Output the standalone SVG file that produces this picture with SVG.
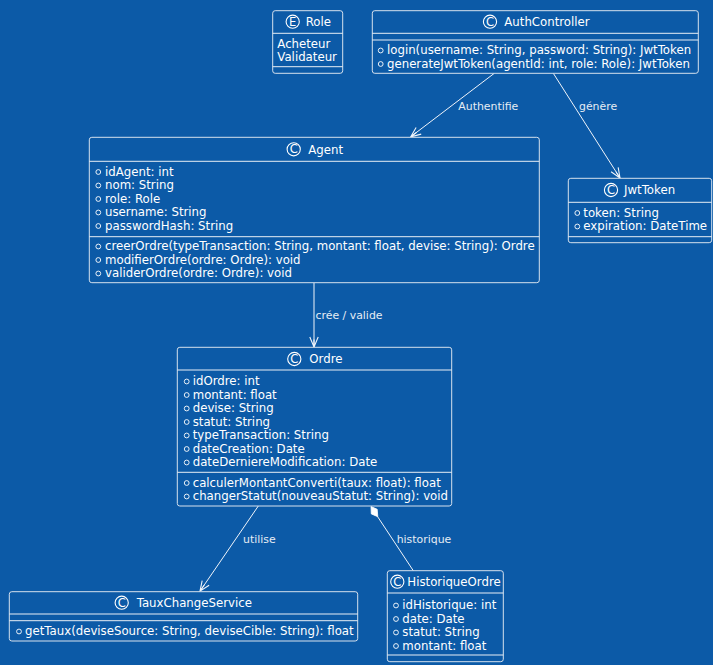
<svg xmlns="http://www.w3.org/2000/svg" width="713" height="665" viewBox="0 0 713 665">
<defs>
<style>
.bg{fill:#0C5AA7}
.box{fill:#0C5AA7;stroke:#D6E1EE;stroke-width:1}
.sep{stroke:#E8EEF6;stroke-width:1}
.t{font-family:"DejaVu Sans",Verdana,sans-serif;font-size:11.75px;fill:#FFFFFF}
.title{font-family:"DejaVu Sans",Verdana,sans-serif;font-size:11.75px;fill:#FFFFFF}
.lbl{font-family:"DejaVu Sans",Verdana,sans-serif;font-size:10.9px;fill:#E6ECF4}
.vis{fill:none;stroke:#FFFFFF;stroke-width:0.9}
.spot{fill:none;stroke:#FFFFFF;stroke-width:1.1}
.spotl{font-family:"DejaVu Sans",Verdana,sans-serif;font-size:11.5px;fill:#FFFFFF;text-anchor:middle}
.edge{stroke:#F0F4FA;stroke-width:1;fill:none}
</style>
<marker id="arr" viewBox="0 0 12 12" refX="11" refY="6" markerWidth="12" markerHeight="12" markerUnits="userSpaceOnUse" orient="auto">
<path d="M1,1.8 L11,6 L1,10.2 M11,6 L3.5,6" fill="none" stroke="#F0F4FA" stroke-width="1.1"/>
</marker>
</defs>
<rect class="bg" x="0" y="0" width="713" height="665"/>

<g id="connectors">
<line class="edge" x1="494.3" y1="73.3" x2="410.7" y2="136.8" marker-end="url(#arr)"/>
<text class="lbl" x="458.3" y="110">Authentifie</text>
<line class="edge" x1="553.3" y1="73.3" x2="620" y2="178" marker-end="url(#arr)"/>
<text class="lbl" x="579" y="110">génère</text>
<line class="edge" x1="314" y1="282.7" x2="314" y2="347" marker-end="url(#arr)"/>
<text class="lbl" x="315.5" y="319">crée / valide</text>
<line class="edge" x1="258.3" y1="506" x2="200" y2="591.2" marker-end="url(#arr)"/>
<text class="lbl" x="243" y="543">utilise</text>
<line class="edge" x1="377.5" y1="516.5" x2="413.3" y2="570.7"/>
<polygon points="371,506.5 377.2,509.3 377.8,516.7 371.3,513.9" fill="#FFFFFF" stroke="#FFFFFF" stroke-width="0.8"/>
<text class="lbl" x="396.7" y="543">historique</text>
</g>

<g id="Role">
<rect class="box" x="272.7" y="10.7" width="70" height="62.6" rx="2.5"/>
<line class="sep" x1="272.7" y1="33.3" x2="342.7" y2="33.3"/>
<line class="sep" x1="272.7" y1="66.7" x2="342.7" y2="66.7"/>
<circle class="spot" cx="292.7" cy="21.7" r="6.6"/>
<text class="spotl" x="292.7" y="25.8">E</text>
<text class="title" x="305.7" y="26">Role</text>
<text class="t" x="277.3" y="47.5">Acheteur</text>
<text class="t" x="277.3" y="61">Validateur</text>
</g>

<g id="AuthController">
<rect class="box" x="372.3" y="10.7" width="326" height="62.6" rx="2.5"/>
<line class="sep" x1="372.3" y1="33.3" x2="698.3" y2="33.3"/>
<line class="sep" x1="372.3" y1="40" x2="698.3" y2="40"/>
<circle class="spot" cx="490" cy="21.7" r="6.6"/>
<text class="spotl" x="490" y="25.8">C</text>
<text class="title" x="504.3" y="26">AuthController</text>
<circle class="vis" cx="380.7" cy="50.5" r="2.4"/>
<text class="t" x="387" y="54">login(username: String, password: String): JwtToken</text>
<circle class="vis" cx="380.7" cy="64" r="2.4"/>
<text class="t" x="387" y="67.5">generateJwtToken(agentId: int, role: Role): JwtToken</text>
</g>

<g id="Agent">
<rect class="box" x="89.3" y="137.3" width="450" height="145.4" rx="2.5"/>
<line class="sep" x1="89.3" y1="161.3" x2="539.3" y2="161.3"/>
<line class="sep" x1="89.3" y1="236.7" x2="539.3" y2="236.7"/>
<circle class="spot" cx="293.7" cy="149.3" r="6.6"/>
<text class="spotl" x="293.7" y="153.4">C</text>
<text class="title" x="308.3" y="153.5">Agent</text>
<circle class="vis" cx="98.3" cy="172" r="2.4"/>
<text class="t" x="105" y="175.5">idAgent: int</text>
<circle class="vis" cx="98.3" cy="185.5" r="2.4"/>
<text class="t" x="105" y="189">nom: String</text>
<circle class="vis" cx="98.3" cy="199" r="2.4"/>
<text class="t" x="105" y="202.5">role: Role</text>
<circle class="vis" cx="98.3" cy="212.5" r="2.4"/>
<text class="t" x="105" y="216">username: String</text>
<circle class="vis" cx="98.3" cy="226" r="2.4"/>
<text class="t" x="105" y="229.5">passwordHash: String</text>
<circle class="vis" cx="98.3" cy="246.5" r="2.4"/>
<text class="t" x="105" y="250">creerOrdre(typeTransaction: String, montant: float, devise: String): Ordre</text>
<circle class="vis" cx="98.3" cy="260" r="2.4"/>
<text class="t" x="105" y="263.5">modifierOrdre(ordre: Ordre): void</text>
<circle class="vis" cx="98.3" cy="273.5" r="2.4"/>
<text class="t" x="105" y="277">validerOrdre(ordre: Ordre): void</text>
</g>

<g id="JwtToken">
<rect class="box" x="568.3" y="178.3" width="143.4" height="64.4" rx="2.5"/>
<line class="sep" x1="568.3" y1="202.3" x2="711.7" y2="202.3"/>
<line class="sep" x1="568.3" y1="236.7" x2="711.7" y2="236.7"/>
<circle class="spot" cx="611" cy="190" r="6.6"/>
<text class="spotl" x="611" y="194.1">C</text>
<text class="title" x="624" y="194">JwtToken</text>
<circle class="vis" cx="577.3" cy="213" r="2.4"/>
<text class="t" x="583.3" y="216.5">token: String</text>
<circle class="vis" cx="577.3" cy="226.5" r="2.4"/>
<text class="t" x="583.3" y="230">expiration: DateTime</text>
</g>

<g id="Ordre">
<rect class="box" x="177.3" y="347.3" width="274.4" height="158.7" rx="2.5"/>
<line class="sep" x1="177.3" y1="370" x2="451.7" y2="370"/>
<line class="sep" x1="177.3" y1="472.3" x2="451.7" y2="472.3"/>
<circle class="spot" cx="294.3" cy="359" r="6.6"/>
<text class="spotl" x="294.3" y="363.1">C</text>
<text class="title" x="309.3" y="363">Ordre</text>
<circle class="vis" cx="186.7" cy="381.5" r="2.4"/>
<text class="t" x="192.7" y="385">idOrdre: int</text>
<circle class="vis" cx="186.7" cy="395" r="2.4"/>
<text class="t" x="192.7" y="398.5">montant: float</text>
<circle class="vis" cx="186.7" cy="408.5" r="2.4"/>
<text class="t" x="192.7" y="412">devise: String</text>
<circle class="vis" cx="186.7" cy="422" r="2.4"/>
<text class="t" x="192.7" y="425.5">statut: String</text>
<circle class="vis" cx="186.7" cy="435.5" r="2.4"/>
<text class="t" x="192.7" y="439">typeTransaction: String</text>
<circle class="vis" cx="186.7" cy="449" r="2.4"/>
<text class="t" x="192.7" y="452.5">dateCreation: Date</text>
<circle class="vis" cx="186.7" cy="462.5" r="2.4"/>
<text class="t" x="192.7" y="466">dateDerniereModification: Date</text>
<circle class="vis" cx="186.7" cy="483" r="2.4"/>
<text class="t" x="192.7" y="486.5">calculerMontantConverti(taux: float): float</text>
<circle class="vis" cx="186.7" cy="496.5" r="2.4"/>
<text class="t" x="192.7" y="500">changerStatut(nouveauStatut: String): void</text>
</g>

<g id="TauxChangeService">
<rect class="box" x="9.3" y="591.7" width="348.4" height="49.3" rx="2.5"/>
<line class="sep" x1="9.3" y1="614" x2="357.7" y2="614"/>
<line class="sep" x1="9.3" y1="620.7" x2="357.7" y2="620.7"/>
<circle class="spot" cx="121.7" cy="602.7" r="6.6"/>
<text class="spotl" x="121.7" y="606.8">C</text>
<text class="title" x="136.7" y="607">TauxChangeService</text>
<circle class="vis" cx="19" cy="631.5" r="2.4"/>
<text class="t" x="25" y="635">getTaux(deviseSource: String, deviseCible: String): float</text>
</g>

<g id="HistoriqueOrdre">
<rect class="box" x="387.3" y="570.7" width="116" height="91" rx="2.5"/>
<line class="sep" x1="387.3" y1="593" x2="503.3" y2="593"/>
<line class="sep" x1="387.3" y1="655" x2="503.3" y2="655"/>
<circle class="spot" cx="397.3" cy="581.7" r="6.6"/>
<text class="spotl" x="397.3" y="585.8">C</text>
<text class="title" x="407.3" y="586">HistoriqueOrdre</text>
<circle class="vis" cx="396" cy="605.5" r="2.4"/>
<text class="t" x="402.3" y="609">idHistorique: int</text>
<circle class="vis" cx="396" cy="619" r="2.4"/>
<text class="t" x="402.3" y="622.5">date: Date</text>
<circle class="vis" cx="396" cy="632.5" r="2.4"/>
<text class="t" x="402.3" y="636">statut: String</text>
<circle class="vis" cx="396" cy="646" r="2.4"/>
<text class="t" x="402.3" y="649.5">montant: float</text>
</g>
</svg>
